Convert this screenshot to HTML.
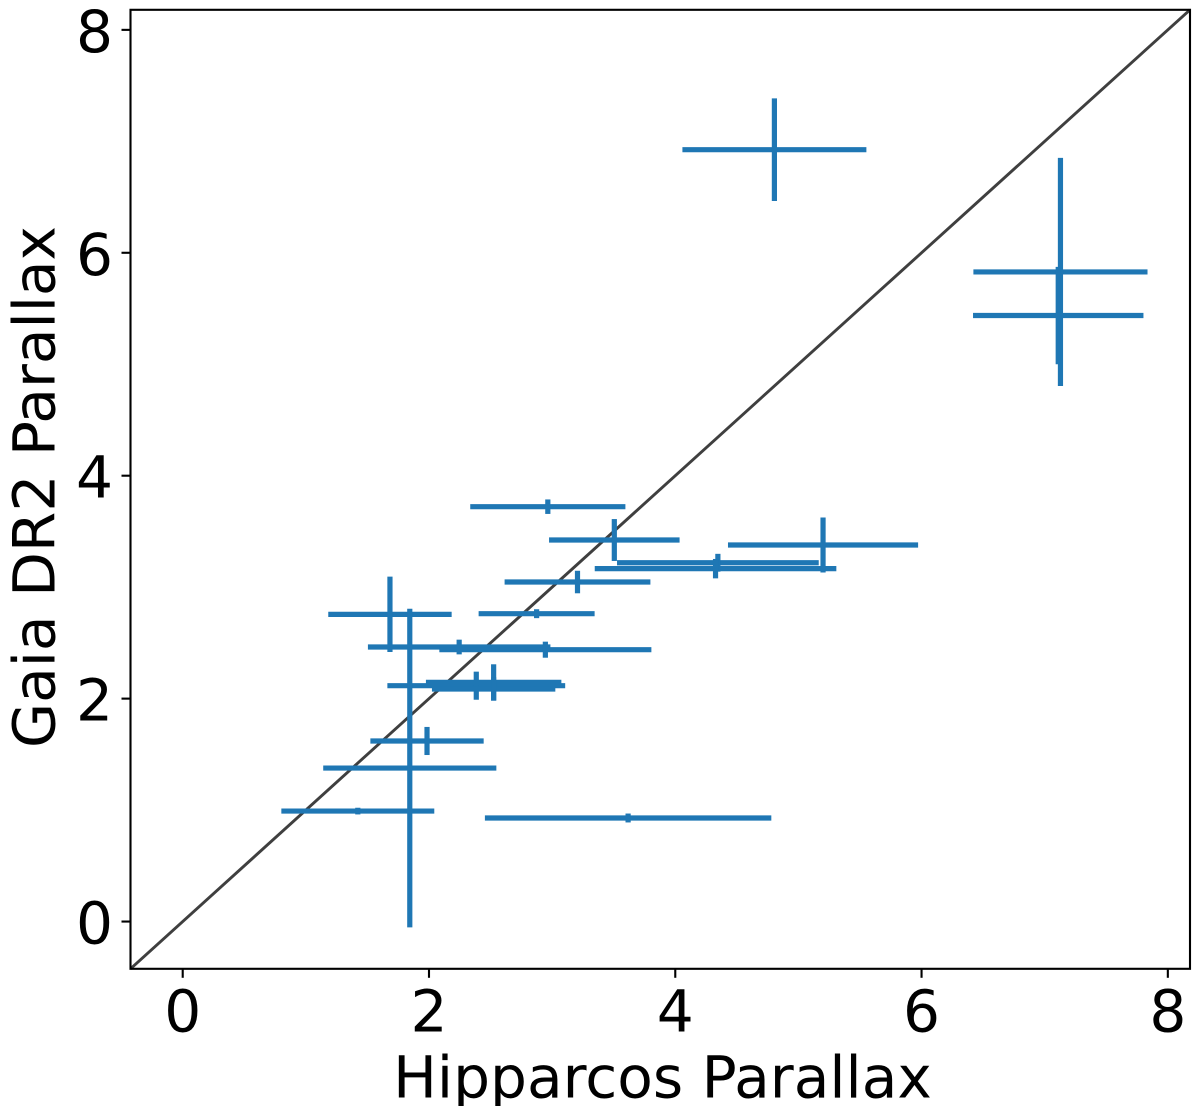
<!DOCTYPE html>
<html lang="en">
<head>
<meta charset="utf-8">
<title>Gaia DR2 vs Hipparcos Parallax</title>
<style>
  html, body { margin: 0; padding: 0; background: #fff; }
  svg { display: block; }
  text { font-family: "DejaVu Sans", "Liberation Sans", sans-serif; fill: #000; }
</style>
</head>
<body>
<svg id="chart" xmlns="http://www.w3.org/2000/svg" width="1200" height="1106" viewBox="0 0 1200 1106">
  <rect x="0" y="0" width="1200" height="1106" fill="#ffffff"/>
  <line id="diagonal" stroke="#3f3f3f" stroke-width="2.9"/>
  <g id="bars"></g>
  <rect id="frame" fill="none" stroke="#000" stroke-width="2.1"/>
  <g id="x-ticks"></g>
  <g id="y-ticks"></g>
  <text x="662.5" y="1097.5" font-size="58.2" text-anchor="middle">Hipparcos Parallax</text>
  <text transform="translate(54.5,487) rotate(-90)" font-size="58.2" text-anchor="middle">Gaia DR2 Parallax</text>
</svg>
<script>
const hipparcos = [4.805, 7.128, 7.11, 2.965, 3.505, 4.346, 4.327, 5.2, 3.206, 2.874, 1.683, 2.245, 2.945, 2.384, 2.525, 2.525, 1.984, 1.844, 1.422, 3.617];
const hipparcosErr = [0.747, 0.707, 0.692, 0.63, 0.53, 0.819, 0.981, 0.772, 0.592, 0.471, 0.501, 0.741, 0.861, 0.722, 0.55, 0.501, 0.46, 0.703, 0.621, 1.163];
const gaia = [6.925, 5.828, 5.437, 3.722, 3.423, 3.219, 3.166, 3.378, 3.046, 2.762, 2.756, 2.463, 2.439, 2.116, 2.146, 2.086, 1.62, 1.377, 0.991, 0.929];
const gaiaErr = [0.46, 1.023, 0.437, 0.065, 0.188, 0.08, 0.087, 0.247, 0.101, 0.04, 0.338, 0.066, 0.072, 0.126, 0.162, 0.105, 0.126, 1.429, 0.03, 0.04];
const xTickLabels = [0, 2, 4, 6, 8];
const yTickLabels = [0, 2, 4, 6, 8];
const axisLimits = [-0.424, 8.18];

const SVG_NS = 'http://www.w3.org/2000/svg';
const plot = { left: 130.5, right: 1190, top: 9.8, bottom: 968.8 };
const span = axisLimits[1] - axisLimits[0];
function sx(v) { return plot.left + (v - axisLimits[0]) / span * (plot.right - plot.left); }
function sy(v) { return plot.bottom - (v - axisLimits[0]) / span * (plot.bottom - plot.top); }

function makeLine(x1, y1, x2, y2, stroke, width) {
  const el = document.createElementNS(SVG_NS, 'line');
  el.setAttribute('x1', x1);
  el.setAttribute('y1', y1);
  el.setAttribute('x2', x2);
  el.setAttribute('y2', y2);
  el.setAttribute('stroke', stroke);
  el.setAttribute('stroke-width', width);
  return el;
}

const diagonal = document.getElementById('diagonal');
diagonal.setAttribute('x1', sx(axisLimits[0]));
diagonal.setAttribute('y1', sy(axisLimits[0]));
diagonal.setAttribute('x2', sx(axisLimits[1]));
diagonal.setAttribute('y2', sy(axisLimits[1]));

const frame = document.getElementById('frame');
frame.setAttribute('x', plot.left);
frame.setAttribute('y', plot.top);
frame.setAttribute('width', plot.right - plot.left);
frame.setAttribute('height', plot.bottom - plot.top);

const barsGroup = document.getElementById('bars');
hipparcos.forEach(function (h, i) {
  const g = gaia[i];
  const hLine = makeLine(sx(h - hipparcosErr[i]), sy(g), sx(h + hipparcosErr[i]), sy(g), '#1f77b4', 5.2);
  
  
  barsGroup.appendChild(hLine);
  const vLine = makeLine(sx(h), sy(g - gaiaErr[i]), sx(h), sy(g + gaiaErr[i]), '#1f77b4', 5.2);
  
  
  barsGroup.appendChild(vLine);
});

const xTicksGroup = document.getElementById('x-ticks');
xTickLabels.forEach(function (t) {
  const mark = makeLine(sx(t), plot.bottom, sx(t), plot.bottom + 9, '#000', 2.1);
  
  
  xTicksGroup.appendChild(mark);
  const label = document.createElementNS(SVG_NS, 'text');
  
  
  label.setAttribute('x', sx(t));
  label.setAttribute('y', 1031.5);
  label.setAttribute('font-size', '58.2');
  label.setAttribute('text-anchor', 'middle');
  label.textContent = String(t);
  xTicksGroup.appendChild(label);
});

const yTicksGroup = document.getElementById('y-ticks');
yTickLabels.forEach(function (t) {
  const mark = makeLine(plot.left - 9, sy(t), plot.left, sy(t), '#000', 2.1);
  
  
  yTicksGroup.appendChild(mark);
  const label = document.createElementNS(SVG_NS, 'text');
  
  
  label.setAttribute('x', 113);
  label.setAttribute('y', sy(t) + 22);
  label.setAttribute('font-size', '58.2');
  label.setAttribute('text-anchor', 'end');
  label.textContent = String(t);
  yTicksGroup.appendChild(label);
});
</script>
</body>
</html>
